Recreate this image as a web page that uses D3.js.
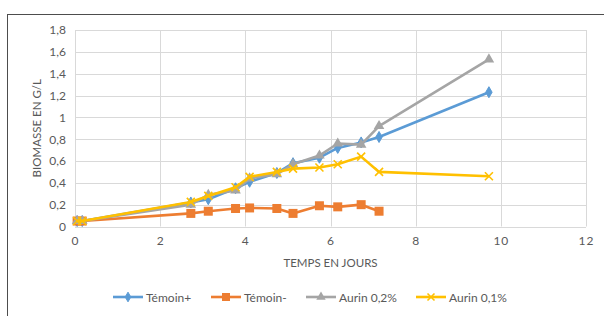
<!DOCTYPE html>
<html>
<head>
<meta charset="utf-8">
<script src="https://cdn.jsdelivr.net/npm/d3@7"></script>
<style>
  body { margin: 0; background: #fff; }
  svg { display: block; font-family: Lato, "Open Sans", sans-serif; }
</style>
</head>
<body>
<div id="chart"></div>
<script>
// Biomass over time, four cultures

const days = [0.05, 0.17, 2.72, 3.13, 3.77, 4.1, 4.74, 5.12, 5.74, 6.17, 6.72, 7.14, 9.72];

const temoinPlus  = [0.05, 0.05, 0.22, 0.25, 0.35, 0.41, 0.49, 0.58, 0.63, 0.72, 0.77, 0.82, 1.23];
const temoinMoins = [0.05, 0.05, 0.12, 0.14, 0.165, 0.17, 0.165, 0.12, 0.19, 0.18, 0.2, 0.14];
const aurin02     = [0.05, 0.05, 0.2, 0.29, 0.33, 0.44, 0.48, 0.57, 0.65, 0.76, 0.75, 0.92, 1.53];
const aurin01     = [0.05, 0.05, 0.225, 0.28, 0.36, 0.455, 0.5, 0.53, 0.54, 0.57, 0.64, 0.5, 0.46];

const seriesNames = ['Témoin+', 'Témoin-', 'Aurin 0,2%', 'Aurin 0,1%'];
const seriesColors = ['#5b9bd5', '#ed7d31', '#a5a5a5', '#ffc000'];
const seriesMarkers = ['diamond', 'square', 'triangle', 'cross'];

const xTicks = [0, 2, 4, 6, 8, 10, 12];
const yTicks = [0, 0.2, 0.4, 0.6, 0.8, 1, 1.2, 1.4, 1.6, 1.8];

const width = 604, height = 316;
const margin = { top: 30, right: 18, bottom: 89.5, left: 75 };

const svg = d3.select('#chart').append('svg')
  .attr('width', width).attr('height', height);

// outer chart frame (runs off the right/bottom edge like the screenshot)
svg.append('rect')
  .attr('x', 7.5).attr('y', 14.5)
  .attr('width', 620).attr('height', 320)
  .attr('fill', 'none').attr('stroke', '#4d4d4d').attr('stroke-width', 1);

const x = d3.scaleLinear().domain([0, 12]).range([margin.left, width - margin.right]);
const y = d3.scaleLinear().domain([0, 1.8]).range([height - margin.bottom, margin.top]);

const fmt = d => String(+d.toFixed(1)).replace('.', ',');

// gridlines
const grid = svg.append('g');
grid.selectAll('.hg').data(yTicks).enter().append('line')
  .attr('x1', x(0)).attr('x2', x(12))
  .attr('y1', d => Math.round(y(d)) + 0.5).attr('y2', d => Math.round(y(d)) + 0.5)
  .attr('stroke', '#d9d9d9').attr('stroke-width', 1);
grid.selectAll('.vg').data(xTicks).enter().append('line')
  .attr('y1', y(0)).attr('y2', y(1.8))
  .attr('x1', d => Math.round(x(d)) + 0.5).attr('x2', d => Math.round(x(d)) + 0.5)
  .attr('stroke', '#d9d9d9').attr('stroke-width', 1);

// axes (labels only, Excel style)
const xAxis = svg.append('g')
  .attr('transform', `translate(0,${y(0)})`)
  .call(d3.axisBottom(x).tickValues(xTicks).tickSize(0).tickPadding(10).tickFormat(d => d));
const yAxis = svg.append('g')
  .attr('transform', `translate(${x(0)},0)`)
  .call(d3.axisLeft(y).tickValues(yTicks).tickSize(0).tickPadding(9).tickFormat(fmt));
[xAxis, yAxis].forEach(a => {
  a.select('.domain').remove();
  a.selectAll('text').attr('fill', '#595959').style('font-size', '12px')
    .style('font-family', 'Lato, "Open Sans", sans-serif');
});
xAxis.selectAll('text').style('letter-spacing', '1px');

// axis titles
svg.append('text')
  .attr('x', (x(0) + x(12)) / 2).attr('y', 267)
  .attr('text-anchor', 'middle').attr('fill', '#595959').style('font-size', '11.5px')
  .text('TEMPS EN JOURS');
svg.append('text')
  .attr('transform', `translate(41,${(y(0) + y(1.8)) / 2}) rotate(-90)`)
  .attr('text-anchor', 'middle').attr('fill', '#595959').style('font-size', '11.5px')
  .text('BIOMASSE EN G/L');

const allValues = [temoinPlus, temoinMoins, aurin02, aurin01];

function marker(g, type, color, size) {
  if (type === 'diamond') {
    g.append('path').attr('d', d3.symbol(d3.symbolDiamond, size * size * 0.55)())
      .attr('fill', color).attr('stroke', color).attr('stroke-width', 1);
  } else if (type === 'square') {
    g.append('rect').attr('x', -size / 2).attr('y', -size / 2)
      .attr('width', size).attr('height', size).attr('fill', color);
  } else if (type === 'triangle') {
    g.append('path').attr('d', d3.symbol(d3.symbolTriangle, size * size * 0.6)())
      .attr('fill', color);
  } else {
    const h = size / 2;
    g.append('path').attr('d', `M${-h},${-h}L${h},${h}M${-h},${h}L${h},${-h}`)
      .attr('stroke', color).attr('stroke-width', 1.6).attr('fill', 'none');
  }
}

const markerSizes = [8, 9, 9, 8];

const line = d3.line().x(d => x(d[0])).y(d => y(d[1]));

allValues.forEach((vals, i) => {
  const pts = vals.map((v, j) => [days[j], v]);
  const g = svg.append('g');
  g.append('path').datum(pts)
    .attr('d', line)
    .attr('fill', 'none').attr('stroke', seriesColors[i])
    .attr('stroke-width', 2.6).attr('stroke-linejoin', 'round');
  g.selectAll('.m').data(pts).enter().append('g')
    .attr('transform', d => `translate(${x(d[0])},${y(d[1])})`)
    .each(function () { marker(d3.select(this), seriesMarkers[i], seriesColors[i], markerSizes[i]); });
});

// legend
const legendX = [113, 211, 306, 416];
const legend = svg.append('g').attr('transform', 'translate(0,297)');
seriesNames.forEach((name, i) => {
  const lg = legend.append('g').attr('transform', `translate(${legendX[i]},0)`);
  lg.append('line').attr('x1', 0).attr('x2', 30).attr('y1', 0).attr('y2', 0)
    .attr('stroke', seriesColors[i]).attr('stroke-width', 2.6);
  const mg = lg.append('g').attr('transform', 'translate(15,0)');
  marker(mg, seriesMarkers[i], seriesColors[i], markerSizes[i] - 1);
  lg.append('text').attr('x', 33).attr('y', 4.5)
    .attr('fill', '#595959').style('font-size', '12px').text(name);
});
</script>
</body>
</html>
